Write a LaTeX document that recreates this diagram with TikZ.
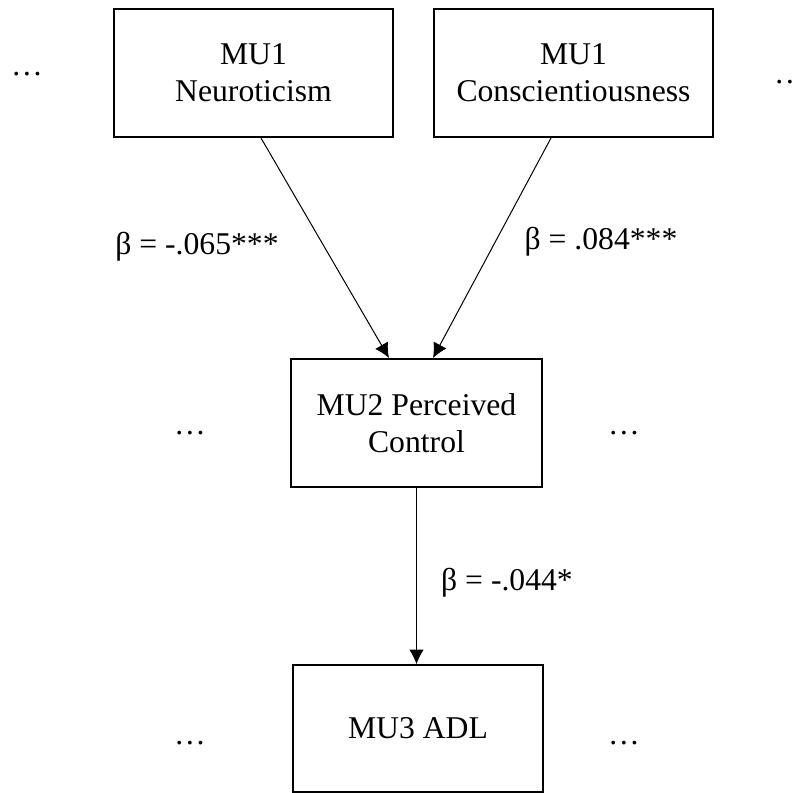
\documentclass[tikz,border=0pt]{standalone}
\usepackage{fontspec}
\setmainfont{Liberation Serif}
\usetikzlibrary{calc,arrows.meta}

\begin{document}
\begin{tikzpicture}[x=0.75pt, y=-0.75pt,
    font=\fontsize{23.75}{27.75}\selectfont,
    unitbox/.style={draw, line width=1.5pt, align=center, inner sep=0pt},
    path/.style={line width=0.75pt, -{Latex[length=11pt,width=11pt]}},
    dotsnode/.style={anchor=base, inner sep=0pt}]

    \useasboundingbox (0,0) rectangle (794,793);

    %units
    \node[unitbox, minimum width=209pt, minimum height=96pt] (N) at (253.5,73) {MU1\\Neuroticism};
    \node[unitbox, minimum width=209pt, minimum height=96pt] (C) at (573.5,73) {MU1\\Conscientiousness};
    \node[unitbox, minimum width=188pt, minimum height=96pt] (PC) at (416.5,423) {MU2 Perceived\\Control};
    \node[unitbox, minimum width=188pt, minimum height=95pt] (ADL) at (418,728.5) {MU3 ADL};

    %omitted units
    \node[dotsnode] (d1) at (27,75) {…};
    \node[dotsnode] (d2) at (790,83) {…};
    \node[dotsnode] (d3) at (190,434) {…};
    \node[dotsnode] (d4) at (624,434) {…};
    \node[dotsnode] (d5) at (190,744) {…};
    \node[dotsnode] (d6) at (624,744) {…};

    %paths
    \draw[path] ($(N.south)+(7.5,0)$) -- ($(PC.north)+(-27.5,0)$);
    \draw[path] ($(C.south)+(-22.5,0)$) -- ($(PC.north)+(16.5,0)$);
    \draw[path] (PC.south) -- (PC.south |- ADL.north);

    %coefficients
    \node (b1) at (197,247) {β = -.065***};
    \node (b2) at (601,242) {β = .084***};
    \node (b3) at (507,583) {β = -.044*};

\end{tikzpicture}
\end{document}
